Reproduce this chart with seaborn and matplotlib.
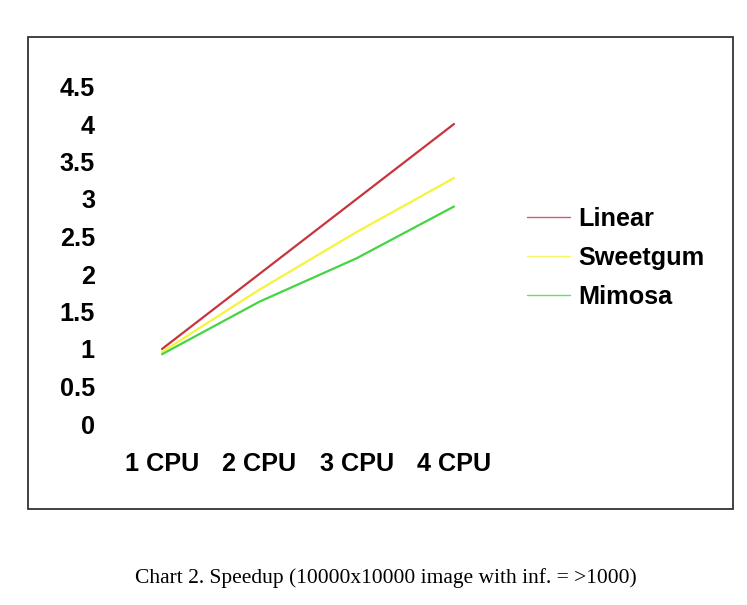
import matplotlib
matplotlib.use('Agg')
import matplotlib.pyplot as plt
import seaborn as sns
import pandas as pd
from matplotlib.patches import Rectangle

# ── Data ──────────────────────────────────────────────────────
cpus = ['1 CPU', '2 CPU', '3 CPU', '4 CPU']
linear = [1.0, 2.0, 3.0, 4.0]
sweetgum = [0.96, 1.79, 2.56, 3.28]
mimosa = [0.93, 1.63, 2.21, 2.90]
y_ticks = [0, 0.5, 1, 1.5, 2, 2.5, 3, 3.5, 4, 4.5]
y_labels = ['0', '0.5', '1', '1.5', '2', '2.5', '3', '3.5', '4', '4.5']
caption = 'Chart 2. Speedup (10000x10000 image with inf. = >1000)'

df = pd.DataFrame({'cpu': cpus * 3,
                   'pos': list(range(len(cpus))) * 3,
                   'speedup': linear + sweetgum + mimosa,
                   'series': ['Linear'] * 4 + ['Sweetgum'] * 4 + ['Mimosa'] * 4})
palette = {'Linear': '#c8343c', 'Sweetgum': '#f4f43c', 'Mimosa': '#44d444'}

sns.set_style('white')
plt.rcParams['font.family'] = ['Liberation Sans', 'DejaVu Sans']
plt.rcParams['text.color'] = 'black'
plt.rcParams['xtick.color'] = 'black'
plt.rcParams['ytick.color'] = 'black'

W, H = 747, 605
FS = 18.2
fig = plt.figure(figsize=(W / 100, H / 100), dpi=100)

# outer frame
fig.patches.append(Rectangle((28 / W, 1 - 509 / H), 705 / W, 472 / H,
                             transform=fig.transFigure, fill=False,
                             edgecolor='#333333', linewidth=1.3))

ax = fig.add_axes([120 / W, 1 - 424 / H, 390 / W, 344 / H])
sns.lineplot(data=df, x='pos', y='speedup', hue='series', palette=palette,
             linewidth=1.6, ax=ax, legend=False)

ax.set_xlim((120 - 162) / 97.33, (510 - 162) / 97.33)
ax.set_ylim(0, 344 / 75)
ax.set_xticks(range(len(cpus)))
ax.set_xticklabels(cpus)
ax.set_yticks(y_ticks)
ax.set_yticklabels(y_labels)
ax.tick_params(axis='y', length=0, pad=18, labelsize=FS)
ax.tick_params(axis='x', length=0, pad=20.5, labelsize=FS)
for lab in ax.get_xticklabels() + ax.get_yticklabels():
    lab.set_fontweight('bold')
ax.set_xlabel('')
ax.set_ylabel('')
sns.despine(ax=ax, left=True, bottom=True)

handles = [plt.Line2D([], [], color=palette[s], linewidth=1.0, alpha=0.8)
           for s in ['Linear', 'Sweetgum', 'Mimosa']]
fig.legend(handles, ['Linear', 'Sweetgum', 'Mimosa'], loc='center left',
           bbox_to_anchor=(527 / W, 1 - 258 / H), frameon=False,
           prop={'size': FS, 'weight': 'bold'}, handlelength=1.71,
           handletextpad=0.31, labelspacing=0.58, borderpad=0,
           borderaxespad=0)

fig.text(386 / W, 1 - 578 / H, caption, ha='center', va='center',
         family='Liberation Serif', fontsize=15.5)

fig.savefig('out.png', dpi=100)
